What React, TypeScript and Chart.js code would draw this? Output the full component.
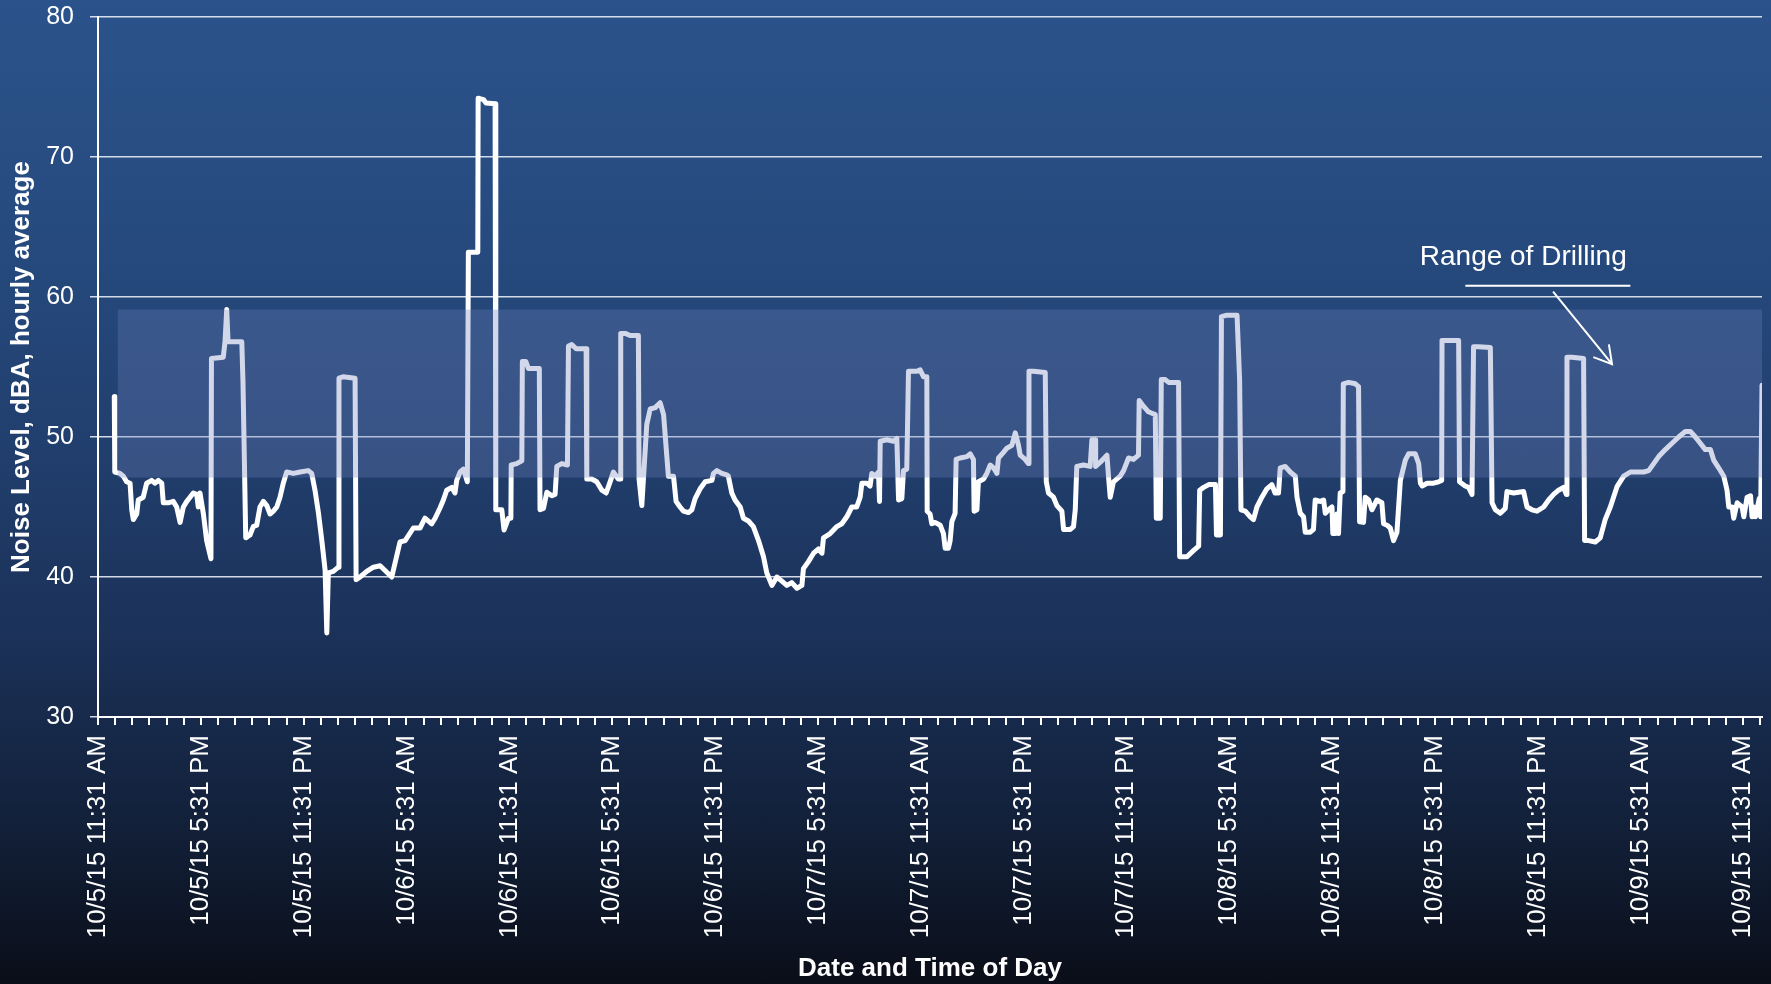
import React, { useEffect, useRef } from 'react';
import { Chart, registerables } from 'chart.js';

Chart.register(...registerables);

// Hours since 10/5/15 11:31 AM
const HOURS = [
  0.95, 0.98, 1.28, 1.48, 1.67, 1.87, 1.97, 2.06, 2.26, 2.35, 2.64, 2.84, 3.13, 3.33, 3.52, 3.72, 3.81, 4.10, 4.39, 4.59,
  4.79, 4.98, 5.18, 5.37, 5.56, 5.76, 5.85, 5.95, 6.15, 6.34, 6.59, 6.62, 7.31, 7.41, 7.51, 7.59, 8.39, 8.46, 8.62, 8.87,
  9.06, 9.26, 9.45, 9.65, 9.85, 10.04, 10.23, 10.43, 10.62, 10.81, 11.01, 11.40, 11.79, 12.27, 12.47, 12.66, 12.86, 13.06, 13.25, 13.35,
  13.44, 13.73, 14.02, 14.06, 14.30, 15.00, 15.06, 15.29, 15.68, 16.07, 16.46, 17.14, 17.62, 17.92, 18.40, 18.79, 19.08, 19.47, 19.67, 19.96,
  20.15, 20.35, 20.64, 20.83, 20.93, 21.13, 21.32, 21.55, 21.61, 22.16, 22.18, 22.49, 22.64, 23.17, 23.21, 23.56, 23.69, 23.95, 24.09, 24.11,
  24.43, 24.73, 24.76, 24.96, 25.11, 25.75, 25.79, 25.99, 26.19, 26.48, 26.67, 26.77, 27.06, 27.39, 27.45, 27.64, 27.90, 28.48, 28.52, 28.81,
  29.10, 29.40, 29.65, 29.88, 30.07, 30.36, 30.46, 30.50, 30.76, 31.05, 31.53, 31.57, 31.73, 32.02, 32.22, 32.51, 32.80, 33.00, 33.28, 33.58,
  33.73, 33.96, 34.16, 34.45, 34.65, 34.84, 35.13, 35.43, 35.82, 35.91, 36.11, 36.40, 36.69, 36.78, 36.98, 37.17, 37.47, 37.66, 37.95, 38.24,
  38.54, 38.83, 39.02, 39.32, 39.61, 39.90, 40.19, 40.48, 40.78, 41.07, 41.16, 41.45, 41.75, 42.04, 42.24, 42.33, 42.72, 43.11, 43.40, 43.69,
  43.98, 44.27, 44.47, 44.57, 44.86, 45.05, 45.15, 45.34, 45.54, 45.60, 45.64, 46.03, 46.42, 46.61, 46.71, 46.90, 47.00, 47.19, 47.29, 47.78,
  47.97, 48.17, 48.36, 48.38, 48.55, 48.65, 48.84, 49.14, 49.33, 49.43, 49.62, 49.72, 49.82, 50.01, 50.07, 50.30, 50.70, 50.89, 51.08, 51.12,
  51.28, 51.37, 51.67, 51.86, 52.06, 52.25, 52.45, 52.54, 52.83, 53.03, 53.32, 53.52, 53.71, 53.81, 54.10, 54.29, 54.32, 54.58, 55.27, 55.33,
  55.46, 55.75, 55.95, 56.24, 56.34, 56.73, 56.92, 57.02, 57.11, 57.50, 57.89, 57.99, 58.18, 58.21, 58.48, 58.87, 58.96, 59.06, 59.25, 59.64,
  59.84, 60.13, 60.42, 60.71, 60.75, 61.00, 61.29, 61.49, 61.69, 61.75, 61.98, 62.04, 62.27, 62.47, 63.05, 63.11, 63.54, 63.93, 64.22, 64.28,
  64.51, 64.81, 65.20, 65.26, 65.49, 65.55, 65.87, 66.46, 66.61, 66.69, 66.94, 67.23, 67.42, 67.62, 67.91, 68.20, 68.49, 68.68, 68.88, 68.98,
  69.27, 69.56, 69.86, 69.96, 70.15, 70.34, 70.44, 70.73, 70.92, 71.02, 71.31, 71.51, 71.61, 71.80, 72.00, 72.05, 72.19, 72.29, 72.38, 72.48,
  72.64, 72.66, 72.97, 73.36, 73.55, 73.61, 73.84, 73.94, 74.14, 74.33, 74.62, 74.91, 75.01, 75.21, 75.40, 75.59, 75.79, 75.99, 76.28, 76.47,
  76.86, 77.06, 77.16, 77.26, 77.55, 77.93, 78.22, 78.40, 78.42, 78.71, 79.39, 79.44, 79.77, 79.97, 80.17, 80.26, 80.55, 81.24, 81.34, 81.53,
  81.82, 82.11, 82.21, 82.60, 83.18, 83.38, 83.67, 83.96, 84.35, 84.64, 84.93, 85.22, 85.51, 85.67, 85.71, 86.00, 86.68, 86.74, 86.97, 87.36,
  87.65, 87.94, 88.24, 88.63, 89.02, 89.41, 89.80, 90.19, 90.48, 90.77, 91.06, 91.45, 91.84, 92.23, 92.62, 92.91, 93.20, 93.49, 93.78, 94.08,
  94.27, 94.56, 94.86, 95.05, 95.15, 95.35, 95.44, 95.64, 95.93, 96.03, 96.22, 96.42, 96.51, 96.61, 96.71, 96.93, 97.01, 97.09,
];

// Noise level, dBA (hourly average)
const NOISE = [
  52.9, 47.5, 47.4, 47.2, 46.8, 46.7, 44.8, 44.1, 44.5, 45.5, 45.7, 46.7, 46.9, 46.7, 46.9, 46.7, 45.3, 45.3, 45.4, 45.0,
  43.9, 45.0, 45.4, 45.7, 46.0, 45.9, 45.0, 46.0, 44.5, 42.6, 41.3, 55.6, 55.7, 56.8, 59.1, 56.8, 56.8, 53.9, 42.8, 43.0,
  43.6, 43.7, 45.0, 45.4, 45.1, 44.5, 44.7, 45.0, 45.7, 46.7, 47.5, 47.4, 47.5, 47.6, 47.4, 46.2, 44.6, 42.6, 40.5, 36.0,
  40.3, 40.4, 40.7, 54.2, 54.3, 54.2, 39.8, 40.0, 40.4, 40.7, 40.8, 40.0, 42.5, 42.6, 43.5, 43.5, 44.2, 43.8, 44.2, 44.95,
  45.5, 46.2, 46.4, 46.0, 46.9, 47.5, 47.7, 46.8, 63.2, 63.2, 74.2, 74.1, 73.85, 73.8, 44.8, 44.8, 43.35, 44.2, 44.2, 48.0,
  48.1, 48.3, 55.4, 55.4, 54.9, 54.9, 44.8, 44.9, 46.05, 45.8, 45.9, 47.9, 48.1, 48.0, 56.5, 56.6, 56.3, 56.3, 47.0, 47.0,
  46.8, 46.2, 46.0, 46.8, 47.5, 47.0, 47.0, 57.4, 57.4, 57.25, 57.25, 47.0, 45.1, 50.9, 52.0, 52.1, 52.45, 51.6, 47.2, 47.2,
  45.4, 45.0, 44.7, 44.6, 44.8, 45.6, 46.3, 46.8, 46.9, 47.4, 47.6, 47.4, 47.3, 47.2, 46.0, 45.5, 45.0, 44.2, 44.0, 43.6,
  42.6, 41.45, 40.3, 39.4, 40.0, 39.7, 39.4, 39.6, 39.2, 39.4, 40.6, 41.1, 41.7, 42.0, 41.7, 42.8, 43.1, 43.6, 43.8, 44.3,
  45.0, 45.0, 45.7, 46.7, 46.7, 46.5, 47.4, 47.2, 47.5, 45.4, 49.7, 49.8, 49.7, 49.9, 45.5, 45.6, 47.6, 47.7, 54.7, 54.7,
  54.8, 54.3, 54.3, 44.7, 44.5, 43.8, 43.9, 43.7, 43.1, 42.05, 42.05, 42.6, 43.95, 44.55, 48.4, 48.5, 48.6, 48.8, 48.4, 44.7,
  44.8, 46.8, 47.0, 47.4, 48.0, 47.8, 47.4, 48.5, 48.9, 49.2, 49.4, 50.3, 49.4, 48.7, 48.4, 48.1, 54.7, 54.7, 54.6, 46.8,
  46.0, 45.7, 45.1, 44.7, 43.4, 43.4, 43.6, 44.8, 47.9, 48.0, 47.9, 49.8, 49.8, 47.9, 48.2, 48.7, 47.2, 45.7, 46.8, 47.2,
  47.6, 48.5, 48.4, 48.7, 52.6, 52.2, 51.8, 51.7, 51.6, 44.2, 44.2, 54.1, 54.1, 53.9, 53.9, 41.45, 41.45, 41.9, 42.2, 46.2,
  46.4, 46.6, 46.6, 43.0, 43.0, 58.6, 58.7, 58.7, 54.1, 44.8, 44.7, 44.3, 44.1, 45.0, 45.7, 46.3, 46.6, 46.0, 46.0, 47.8,
  47.9, 47.5, 47.2, 45.7, 44.55, 44.3, 43.2, 43.2, 43.4, 45.5, 45.4, 45.5, 44.55, 44.8, 45.0, 43.1, 43.1, 44.5, 43.1, 46.0,
  46.1, 53.8, 53.9, 53.8, 53.6, 43.95, 43.9, 45.7, 45.5, 44.8, 45.5, 45.3, 43.8, 43.7, 43.5, 42.6, 43.2, 46.9, 48.35, 48.8,
  48.8, 48.1, 46.7, 46.5, 46.7, 46.7, 46.8, 46.9, 56.9, 56.9, 56.9, 46.8, 46.5, 46.4, 45.9, 56.45, 56.45, 56.4, 45.3, 44.8,
  44.55, 44.9, 46.1, 46.0, 46.1, 45.0, 44.8, 44.7, 45.0, 45.5, 45.9, 46.2, 46.4, 45.9, 55.7, 55.7, 55.6, 42.6, 42.6, 42.5,
  42.8, 44.1, 45.0, 46.45, 47.2, 47.5, 47.5, 47.5, 47.6, 48.1, 48.6, 49.1, 49.55, 50.0, 50.4, 50.4, 50.0, 49.55, 49.1, 49.1,
  48.35, 47.8, 47.2, 46.2, 45.0, 45.0, 44.2, 45.3, 45.0, 44.3, 45.7, 45.8, 44.3, 45.0, 44.3, 45.6, 44.3, 53.7,
];

const TICK_LABELS = [
  '10/5/15 11:31 AM', '10/5/15 5:31 PM', '10/5/15 11:31 PM',
  '10/6/15 5:31 AM', '10/6/15 11:31 AM', '10/6/15 5:31 PM', '10/6/15 11:31 PM',
  '10/7/15 5:31 AM', '10/7/15 11:31 AM', '10/7/15 5:31 PM', '10/7/15 11:31 PM',
  '10/8/15 5:31 AM', '10/8/15 11:31 AM', '10/8/15 5:31 PM', '10/8/15 11:31 PM',
  '10/9/15 5:31 AM', '10/9/15 11:31 AM',
];

const LABEL_EVERY_HOURS = 6;
const X_MIN = 0;
const X_MAX = 97.09;
const Y_MIN = 30;
const Y_MAX = 80;
const Y_STEP = 10;

// Range of drilling band
const DRILL_START = 1.15;
const DRILL_LOW = 47.1;
const DRILL_HIGH = 59.1;

// Annotation anchors (hours, dBA)
const NOTE_TEXT = 'Range of Drilling';
const NOTE_POS = [83.16, 62.3];
const NOTE_LINE = [79.78, 89.41, 60.8];
const ARROW_FROM = [84.9, 60.38];
const ARROW_TO = [88.34, 55.2];

const FONT = '"Liberation Sans", Arial, sans-serif';

const bandPlugin = {
  id: 'drillBand',
  afterDatasetsDraw(chart: any) {
    const { ctx, scales } = chart;
    const x = scales.x;
    const y = scales.y;
    ctx.save();
    const l = x.getPixelForValue(DRILL_START);
    const r = x.getPixelForValue(X_MAX);
    const t = y.getPixelForValue(DRILL_HIGH);
    const b = y.getPixelForValue(DRILL_LOW);
    ctx.fillStyle = 'rgba(110,130,187,0.31)';
    ctx.fillRect(l, t, r - l, b - t);

    // annotation text
    ctx.fillStyle = '#FFFFFF';
    ctx.font = `28px ${FONT}`;
    ctx.textAlign = 'center';
    ctx.textBaseline = 'alphabetic';
    ctx.fillText(NOTE_TEXT, x.getPixelForValue(NOTE_POS[0]), y.getPixelForValue(NOTE_POS[1]));

    ctx.strokeStyle = '#FFFFFF';
    ctx.lineWidth = 2;
    ctx.beginPath();
    const uy = y.getPixelForValue(NOTE_LINE[2]);
    ctx.moveTo(x.getPixelForValue(NOTE_LINE[0]), uy);
    ctx.lineTo(x.getPixelForValue(NOTE_LINE[1]), uy);
    ctx.stroke();

    const x0 = x.getPixelForValue(ARROW_FROM[0]);
    const y0 = y.getPixelForValue(ARROW_FROM[1]);
    const x1 = x.getPixelForValue(ARROW_TO[0]);
    const y1 = y.getPixelForValue(ARROW_TO[1]);
    ctx.beginPath();
    ctx.moveTo(x0, y0);
    ctx.lineTo(x1, y1);
    const ang = Math.atan2(y1 - y0, x1 - x0) + Math.PI;
    const head = 20;
    const spread = Math.PI / 6;
    ctx.moveTo(x1 + head * Math.cos(ang - spread), y1 + head * Math.sin(ang - spread));
    ctx.lineTo(x1, y1);
    ctx.lineTo(x1 + head * Math.cos(ang + spread), y1 + head * Math.sin(ang + spread));
    ctx.stroke();
    ctx.restore();
  },
};

export default function App() {
  const canvasRef = useRef<HTMLCanvasElement | null>(null);

  useEffect(() => {
    const canvas = canvasRef.current;
    if (!canvas) return;
    const points = HOURS.map((h, i) => ({ x: h, y: NOISE[i] }));
    const chart = new Chart(canvas, {
      type: 'line',
      data: {
        datasets: [
          {
            data: points,
            borderColor: '#FFFFFF',
            borderWidth: 5,
            pointRadius: 0,
            tension: 0,
            fill: false,
            borderJoinStyle: 'round',
            borderCapStyle: 'round',
          } as any,
        ],
      },
      options: {
        responsive: false,
        animation: false,
        layout: { padding: { top: 17, right: 9, left: 0, bottom: 0 } },
        plugins: {
          legend: { display: false },
          tooltip: { enabled: false },
        },
        scales: {
          x: {
            type: 'linear',
            min: X_MIN,
            max: X_MAX,
            afterBuildTicks: (scale: any) => {
              const ticks = [];
              for (let h = 0; h <= Math.floor(X_MAX); h++) ticks.push({ value: h });
              scale.ticks = ticks;
            },
            afterFit: (scale: any) => {
              scale.height = 267;
              scale.paddingLeft = 0;
              scale.paddingRight = 0;
            },
            ticks: {
              autoSkip: false,
              maxRotation: 90,
              minRotation: 90,
              padding: 10,
              color: '#FFFFFF',
              font: { family: FONT, size: 26 },
              callback: (v: any) => {
                const n = Math.round(Number(v));
                return n % LABEL_EVERY_HOURS === 0 ? TICK_LABELS[n / LABEL_EVERY_HOURS] ?? '' : '';
              },
            },
            grid: {
              drawOnChartArea: false,
              drawTicks: true,
              tickLength: 8,
              color: '#FFFFFF',
              lineWidth: 2,
            },
            border: { display: true, color: '#FFFFFF', width: 2 },
            title: {
              display: true,
              text: 'Date and Time of Day',
              color: '#FFFFFF',
              font: { family: FONT, size: 26, weight: 'bold' },
              padding: { top: 0, bottom: 0 },
            },
          },
          y: {
            min: Y_MIN,
            max: Y_MAX,
            afterFit: (scale: any) => {
              scale.width = 98;
              scale.paddingTop = 0;
              scale.paddingBottom = 0;
            },
            ticks: {
              stepSize: Y_STEP,
              padding: 16,
              color: '#FFFFFF',
              font: { family: FONT, size: 25 },
            },
            grid: {
              color: 'rgba(232,236,244,0.9)',
              lineWidth: 1.5,
              tickLength: 8,
              drawTicks: true,
            },
            border: { display: true, color: '#FFFFFF', width: 2 },
            title: {
              display: true,
              text: 'Noise Level, dBA, hourly average',
              color: '#FFFFFF',
              font: { family: FONT, size: 26, weight: 'bold' },
              padding: { top: 6.4, bottom: 0 },
            },
          },
        },
      } as any,
      plugins: [bandPlugin],
    });
    return () => chart.destroy();
  }, []);

  return (
    <div
      style={{
        position: 'fixed',
        left: 0,
        top: 0,
        width: 1771,
        height: 984,
        background:
          'linear-gradient(to bottom, #2B538B 0%, #264A7E 25%, #213F6E 45%, #1B3158 65%, #142440 80%, #0E1729 92%, #0A0E18 100%)',
      }}
    >
      <canvas ref={canvasRef} width={1771} height={984} style={{ display: 'block' }} />
    </div>
  );
}
